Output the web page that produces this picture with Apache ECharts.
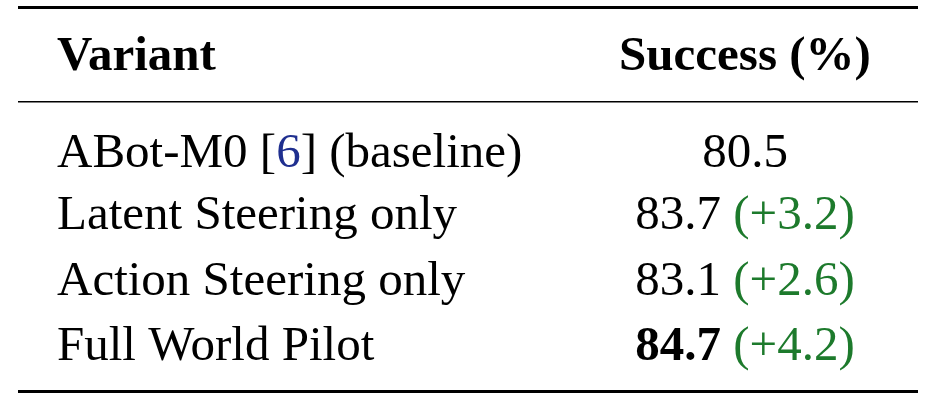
<!DOCTYPE html>
<html><head><meta charset="utf-8">
<script src="https://cdn.jsdelivr.net/npm/echarts@6/dist/echarts.min.js"></script>
<style>html,body{margin:0;background:#fff}#c{width:928px;height:405px}</style>
</head><body><div id="c"></div>
<script>
const headers = ['Variant', 'Success (%)'];
const variants = ['ABot-M0 [6] (baseline)', 'Latent Steering only', 'Action Steering only', 'Full World Pilot'];
const success = [80.5, 83.7, 83.1, 84.7];
const deltas = [null, 3.2, 2.6, 4.2];
const best = 3;

const chart = echarts.init(document.getElementById('c'));
const F = 'Liberation Serif, Times New Roman, serif';
const FS = 49;
const rowY = [154, 216, 282, 347];
const g = [];
g.push({type:'rect', shape:{x:18,y:6,width:900,height:3}, style:{fill:'#000'}});
g.push({type:'rect', shape:{x:18,y:101,width:900,height:1.6}, style:{fill:'#000'}});
g.push({type:'rect', shape:{x:18,y:390,width:900,height:3}, style:{fill:'#000'}});
g.push({type:'text', x:57, y:57, style:{text:headers[0], font:`bold ${FS}px ${F}`, fill:'#000', verticalAlign:'middle'}});
g.push({type:'text', x:745, y:57, style:{text:headers[1], font:`bold ${FS}px ${F}`, fill:'#000', align:'center', verticalAlign:'middle'}});
variants.forEach((v,i)=>{
  let rich = {n:{font:`${FS}px ${F}`, fill:'#000'}, b:{font:`${FS}px ${F}`, fill:'#1f2f8f'}, s:{font:`bold ${FS}px ${F}`, fill:'#000'}, gr:{font:`${FS}px ${F}`, fill:'#1d7a2c'}};
  let lab;
  const m = v.match(/^(.*\[)(\d+)(\].*)$/);
  if (m) lab = `{n|${m[1]}}{b|${m[2]}}{n|${m[3]}}`; else lab = `{n|${v}}`;
  g.push({type:'text', x:57, y:rowY[i], style:{text:lab, rich, verticalAlign:'middle'}});
  let val = `{${i===best?'s':'n'}|${success[i].toFixed(1)}}`;
  if (deltas[i]!=null) val += `{n| }{gr|(+${deltas[i].toFixed(1)})}`;
  g.push({type:'text', x:745, y:rowY[i], style:{text:val, rich, align:'center', verticalAlign:'middle'}});
});
chart.setOption({animation:false, graphic:g});
</script></body></html>
